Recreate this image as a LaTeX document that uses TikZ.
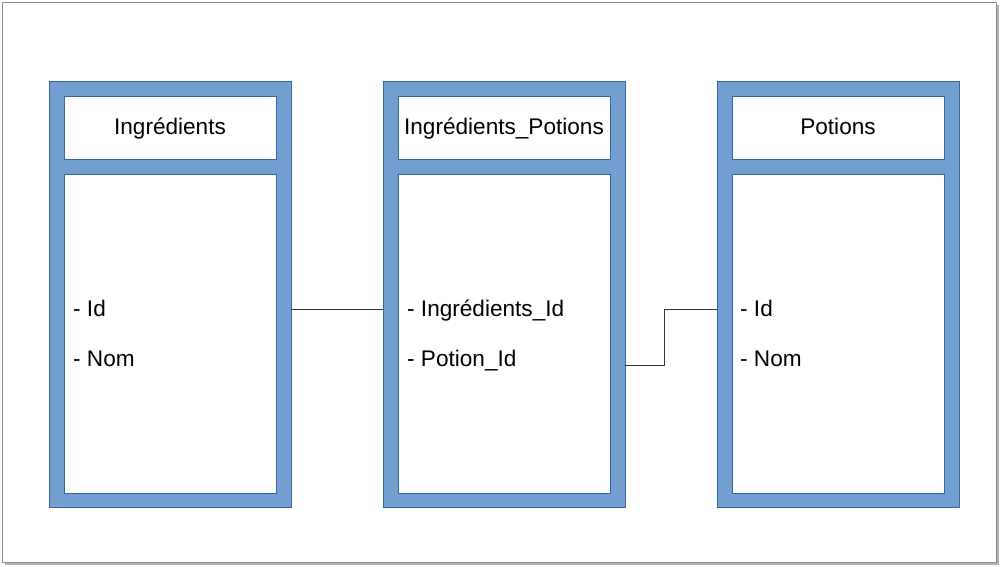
\documentclass[tikz,border=0pt]{standalone}
\usepackage{fontspec}
\setmainfont{Liberation Sans}
\definecolor{tblue}{HTML}{729FCF}
\definecolor{tedge}{HTML}{3465A4}
\definecolor{conn}{HTML}{333333}
\begin{document}
\begin{tikzpicture}[x=1pt,y=-1pt,
  outerbox/.style={draw=tedge, line width=0.8pt, fill=tblue, minimum width=242pt, minimum height=426pt, inner sep=0pt},
  headbox/.style={draw=tedge, line width=0.6pt, fill=white, minimum width=212pt, minimum height=63pt, inner sep=0pt, text height=16pt, text depth=2pt, font=\fontsize{22.6}{26}\selectfont},
  bodybox/.style={draw=tedge, line width=0.6pt, fill=white, minimum width=212pt, minimum height=319pt, inner sep=0pt},
  attr/.style={anchor=base west, inner sep=0pt, font=\fontsize{22.6}{26}\selectfont},
  link/.style={draw=conn, line width=1pt}]
\useasboundingbox (0,0) rectangle (1000,566);
% page
\fill[black!30] (5,5) rectangle (999,565);
\draw[black!45, fill=white, line width=0.8pt] (2,2) rectangle (996,562);
% tables
\node[outerbox] (ing) at (170,294) {};
\node[headbox] (ingh) at (170,127.5) {Ingrédients};
\node[bodybox] (ingb) at (170,333.5) {};
\node[attr] (ing1) at (73,316) {- Id};
\node[attr] (ing2) at (73,366) {- Nom};

\node[outerbox] (mid) at (504,294) {};
\node[headbox] (midh) at (504,127.5) {Ingrédients\_Potions};
\node[bodybox] (midb) at (504,333.5) {};
\node[attr] (mid1) at (407,316) {- Ingrédients\_Id};
\node[attr] (mid2) at (407,366) {- Potion\_Id};

\node[outerbox] (pot) at (838,294) {};
\node[headbox] (poth) at (838,127.5) {Potions};
\node[bodybox] (potb) at (838,333.5) {};
\node[attr] (pot1) at (740,316) {- Id};
\node[attr] (pot2) at (740,366) {- Nom};
% connectors
\coordinate (r1) at (0,309);
\coordinate (r2) at (0,365);
\coordinate (bend) at (664,0);
\draw[link] (ing.east |- r1) -- (mid.west |- r1);
\draw[link] (mid.east |- r2) -- (bend |- r2) -- (bend |- r1) -- (pot.west |- r1);
\end{tikzpicture}
\end{document}
